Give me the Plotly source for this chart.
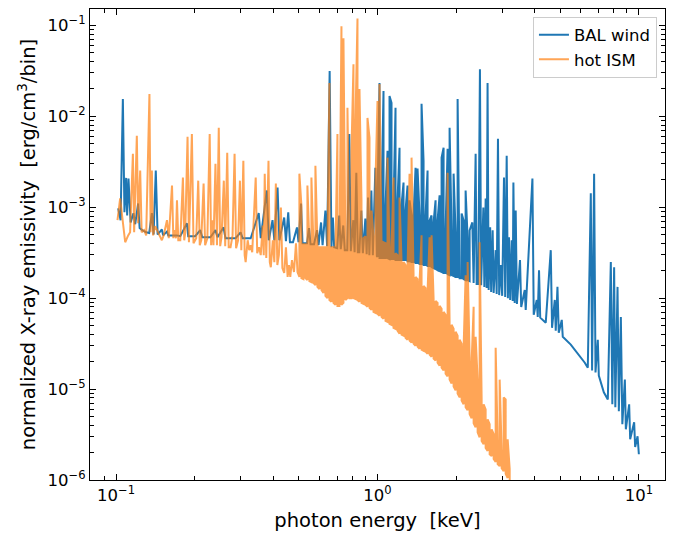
import plotly.graph_objects as go

# ---- data ----
# BAL wind, below 1 keV: (photon energy [keV], emissivity)
BAL_WIND_SOFT = [
    (0.1018, 9.7e-4), (0.1040, 7.2e-4), (0.1061, 1.55e-2), (0.1076, 8.8e-4), (0.1092, 2.1e-3),
    (0.1102, 8.1e-4), (0.1115, 2.07e-3), (0.1136, 6.8e-4), (0.1165, 8.6e-4), (0.1183, 6.5e-4),
    (0.1214, 1.1e-3), (0.1230, 5.9e-4), (0.1258, 5.6e-4), (0.1303, 5.3e-4), (0.1338, 5.2e-4),
    (0.1370, 8.6e-4), (0.1391, 5.0e-4), (0.1418, 2.53e-3), (0.1441, 5.0e-4), (0.1496, 5.7e-4),
    (0.1513, 4.9e-4), (0.1565, 5.4e-4), (0.1583, 4.9e-4), (0.1709, 4.9e-4), (0.1760, 4.8e-4),
    (0.1866, 6.65e-4), (0.1887, 4.8e-4), (0.2007, 4.8e-4), (0.2098, 5.6e-4), (0.2136, 4.67e-4),
    (0.2294, 4.67e-4), (0.2399, 5.6e-4), (0.2442, 4.67e-4), (0.2575, 6.0e-4), (0.2621, 4.56e-4),
    (0.2864, 4.56e-4), (0.2994, 5.3e-4), (0.3048, 4.56e-4), (0.3272, 4.56e-4), (0.3512, 8.6e-4),
    (0.3575, 4.56e-4), (0.3770, 1.53e-3), (0.3838, 4.33e-4), (0.3966, 7.2e-4), (0.4030, 4.33e-4),
    (0.4146, 1.65e-3), (0.4212, 4.33e-4), (0.4396, 7.7e-4), (0.4463, 4.23e-4), (0.4555, 8.8e-4),
    (0.4624, 4.12e-4), (0.4749, 4.12e-4), (0.4920, 6.0e-4), (0.4986, 4.12e-4), (0.5098, 1.1e-3),
    (0.5166, 4.02e-4), (0.5374, 4.02e-4), (0.5470, 5.9e-4), (0.5543, 3.92e-4), (0.5717, 3.92e-4),
    (0.5871, 5.6e-4), (0.5949, 3.82e-4), (0.6082, 6.8e-4), (0.6164, 3.82e-4), (0.6319, 9.2e-4),
    (0.6416, 3.73e-4), (0.6560, 3.14e-2), (0.6666, 3.63e-4), (0.6749, 7.7e-4), (0.6828, 3.63e-4),
    (0.7011, 3.54e-4), (0.7138, 8.1e-4), (0.7234, 3.45e-4), (0.7396, 6.3e-4), (0.7495, 3.37e-4),
    (0.7662, 3.37e-4), (0.7800, 6.4e-3), (0.7904, 3.28e-4), (0.8080, 7.2e-4), (0.8174, 3.2e-4),
    (0.8298, 2.4e-3), (0.8408, 3.2e-4), (0.8521, 3.2e-4), (0.8673, 9.2e-4), (0.8789, 3.12e-4),
    (0.8985, 7.5e-4), (0.9089, 3.05e-4), (0.9202, 1.28e-3), (0.9308, 2.97e-4), (0.9473, 1.53e-3),
    (0.9599, 2.97e-4), (0.9813, 2.72e-3), (0.9944, 2.9e-4),
]

# BAL wind, dense line forest 1-2.3 keV: energy, top of the forest, continuum below it
BAL_FOREST_E = [
    1.0000, 1.0178, 1.0359, 1.0544, 1.0731, 1.0922, 1.1117, 1.1315, 1.1516, 1.1721,
    1.1930, 1.2142, 1.2358, 1.2578, 1.2802, 1.3030, 1.3262, 1.3498, 1.3738, 1.3982,
    1.4231, 1.4485, 1.4742, 1.5005, 1.5272, 1.5544, 1.5821, 1.6102, 1.6389, 1.6680,
    1.6977, 1.7280, 1.7587, 1.7900, 1.8219, 1.8543, 1.8873, 1.9209, 1.9551, 1.9899,
    2.0253, 2.0614, 2.0981, 2.1354, 2.1734, 2.2121, 2.2515,
]
BAL_FOREST_TOP = [
    1.19e-3, 2.32e-2, 1.19e-3, 1.9e-2, 1.05e-3, 4.18e-3, 1.67e-2, 1.4e-2, 1.05e-3, 1.24e-2,
    1.19e-3, 4.51e-3, 1.05e-3, 1.87e-3, 9.23e-4, 1.73e-3, 1.19e-3, 8.13e-4, 8.13e-4, 2.72e-3,
    2.66e-3, 8.13e-4, 1.37e-2, 3.25e-3, 8.13e-4, 2.53e-3, 7.17e-4, 8.13e-4, 6.82e-4, 1.19e-3,
    7.17e-4, 1.35e-3, 3.51e-3, 4.51e-3, 5.86e-4, 4.4e-3, 7.46e-3, 5.57e-4, 2.34e-3, 5.3e-4,
    1.55e-2, 4.91e-4, 8.55e-4, 7.17e-4, 1.53e-3, 4.56e-4, 5.57e-4,
]
BAL_FOREST_BOTTOM = [
    2.83e-4, 2.76e-4, 2.76e-4, 2.76e-4, 2.76e-4, 2.76e-4, 2.69e-4, 2.69e-4, 2.69e-4, 2.62e-4,
    2.62e-4, 2.62e-4, 2.62e-4, 2.62e-4, 2.62e-4, 2.55e-4, 2.55e-4, 2.49e-4, 2.49e-4, 2.43e-4,
    2.43e-4, 2.37e-4, 2.37e-4, 2.31e-4, 2.31e-4, 2.25e-4, 2.25e-4, 2.19e-4, 2.14e-4, 2.09e-4,
    2.03e-4, 1.98e-4, 1.94e-4, 1.89e-4, 1.89e-4, 1.84e-4, 1.79e-4, 1.79e-4, 1.75e-4, 1.71e-4,
    1.71e-4, 1.66e-4, 1.66e-4, 1.62e-4, 1.58e-4, 1.58e-4, 1.54e-4,
]

# BAL wind, above 2.3 keV: (photon energy [keV], emissivity)
BAL_WIND_HARD = [
    (2.3058, 6.8e-4), (2.3324, 1.47e-4),
    (2.3739, 3.88e-3), (2.3949, 1.43e-4), (2.4291, 1.43e-4), (2.4485, 1.33e-2), (2.4658, 3.3e-2),
    (2.4921, 1.39e-4), (2.5410, 9.95e-4), (2.5635, 1.33e-4), (2.5931, 1.25e-3), (2.6160, 1.29e-4),
    (2.6369, 2.32e-2), (2.6626, 1.23e-4), (2.6980, 6.0e-4), (2.7220, 1.17e-4), (2.7582, 5.57e-4),
    (2.7826, 1.14e-4), (2.8322, 3.37e-4), (2.8573, 1.11e-4), (2.8903, 5.66e-3), (2.9211, 1.08e-4),
    (2.9600, 2.31e-4), (2.9994, 1.06e-4), (3.0475, 2.12e-3), (3.0799, 1.03e-4), (3.1209, 3.69e-3),
    (3.1541, 1.0e-4), (3.1849, 4.67e-4), (3.2188, 9.55e-5), (3.2617, 4.33e-4), (3.2906, 9.3e-5),
    (3.3110, 1.87e-3), (3.3492, 8.86e-5), (3.3789, 9.2e-4), (3.4148, 8.64e-5), (3.5095, 2.62e-4),
    (3.5468, 8.0e-5), (3.6582, 1.23e-4), (3.6906, 7.4e-5), (3.9150, 2.07e-3), (3.9602, 6.55e-5),
    (4.0664, 9.55e-5), (4.1025, 6.2e-5), (4.1498, 2.03e-4), (4.1940, 6.1e-5), (4.4026, 5.36e-5),
    (4.6011, 3.37e-4), (4.6542, 4.72e-5), (4.7663, 9.55e-5), (4.8085, 4.38e-5), (4.8812, 1.33e-4),
    (4.9376, 4.16e-5), (5.0700, 5.77e-5), (5.1150, 3.76e-5), (5.4892, 3.08e-5), (5.8906, 2.39e-5),
    (6.2106, 1.95e-5), (6.3771, 1.72e-5), (6.5480, 1.42e-3), (6.6235, 1.6e-5), (6.7414, 2.34e-3),
    (6.8251, 1.52e-5), (6.9650, 3.49e-5), (7.0268, 1.41e-5), (7.3436, 9.2e-6), (7.6072, 7.7e-6),
    (7.8112, 2.49e-4), (7.9153, 6.8e-6), (8.0420, 2.19e-4), (8.1276, 6.3e-6), (8.2869, 1.33e-4),
    (8.3825, 5.69e-6), (8.5318, 6.2e-5), (8.6455, 4.1e-6), (8.8384, 1.27e-5), (8.9168, 3.61e-6),
    (9.1804, 6.8e-6), (9.2618, 2.81e-6), (9.5936, 4.31e-6), (9.6787, 2.31e-6), (9.8860, 3.03e-6),
    (10.000, 1.92e-6),
]

# hot ISM, soft part: (photon energy [keV], emissivity)
HOT_ISM_SOFT = [
    (0.1012, 7.2e-4), (0.1036, 1.25e-3), (0.1054, 8.1e-4), (0.1083, 4.12e-4), (0.1112, 4.9e-4),
    (0.1131, 5.3e-4), (0.1159, 3.88e-3), (0.1172, 5.3e-4), (0.1200, 6.1e-3), (0.1214, 6.65e-4),
    (0.1236, 2.53e-3), (0.1252, 5.3e-4), (0.1280, 5.6e-4), (0.1303, 4.9e-4), (0.1341, 1.76e-2),
    (0.1355, 5.3e-4), (0.1370, 2.53e-3), (0.1385, 4.9e-4), (0.1410, 6.2e-4), (0.1435, 5.6e-4),
    (0.1460, 4.9e-4), (0.1496, 4.33e-4), (0.1520, 4.9e-4), (0.1565, 7.2e-4), (0.1590, 4.56e-4),
    (0.1636, 1.73e-3), (0.1655, 4.56e-4), (0.1669, 5.6e-4), (0.1693, 4.56e-4), (0.1709, 1.19e-3),
    (0.1729, 4.33e-4), (0.1760, 4.33e-4), (0.1801, 2.12e-3), (0.1822, 4.33e-4), (0.1838, 5.2e-4),
    (0.1876, 5.95e-3), (0.1899, 4.12e-4), (0.1949, 6.4e-3), (0.1977, 4.02e-4), (0.2025, 4.56e-4),
    (0.2061, 1.96e-3), (0.2089, 3.82e-4), (0.2117, 4.33e-4), (0.2161, 1.82e-3), (0.2190, 3.82e-4),
    (0.2234, 4.56e-4), (0.2280, 6.4e-3), (0.2309, 3.82e-4), (0.2329, 7.2e-4), (0.2357, 3.82e-4),
    (0.2399, 3.0e-3), (0.2431, 3.82e-4), (0.2470, 7.46e-3), (0.2501, 3.73e-4), (0.2530, 4.67e-4),
    (0.2582, 1.96e-3), (0.2614, 3.73e-4), (0.2661, 3.98e-3), (0.2696, 3.63e-4), (0.2740, 3.63e-4),
    (0.2789, 4.9e-4), (0.2839, 3.88e-3), (0.2877, 3.54e-4), (0.2928, 4.33e-4), (0.2976, 1.96e-3),
    (0.3013, 3.37e-4), (0.3067, 3.25e-3), (0.3103, 2.97e-4), (0.3130, 2.49e-4), (0.3186, 4.33e-4),
    (0.3229, 3.37e-4), (0.3272, 3.82e-4), (0.3316, 3.2e-4), (0.3420, 2.12e-3), (0.3465, 3.12e-4),
    (0.3521, 3.63e-4), (0.3575, 2.97e-4), (0.3638, 6.3e-4), (0.3671, 2.97e-4), (0.3703, 2.34e-3),
    (0.3753, 2.76e-4), (0.3828, 3.25e-3), (0.3872, 2.49e-4), (0.3907, 2.19e-4), (0.3976, 4.33e-4),
    (0.4030, 2.49e-4), (0.4084, 1.82e-3), (0.4138, 2.31e-4), (0.4194, 2.97e-4), (0.4269, 9.95e-4),
    (0.4326, 2.14e-4), (0.4396, 1.89e-4), (0.4463, 3.63e-4), (0.4531, 1.71e-4), (0.4584, 2.31e-4),
    (0.4637, 1.71e-4), (0.4707, 2.62e-4), (0.4791, 1.94e-4), (0.4877, 4.02e-4), (0.4942, 1.94e-4),
]

# hot ISM, dense line forest 0.5-3.2 keV: energy, top of the forest, bottom of the forest
ISM_FOREST_E = [
    0.5025, 0.5115, 0.5206, 0.5299, 0.5393, 0.5489, 0.5587, 0.5686, 0.5787, 0.5890,
    0.5995, 0.6102, 0.6211, 0.6321, 0.6434, 0.6548, 0.6665, 0.6783, 0.6904, 0.7027,
    0.7152, 0.7279, 0.7409, 0.7541, 0.7675, 0.7812, 0.7951, 0.8092, 0.8236, 0.8383,
    0.8532, 0.8684, 0.8838, 0.8996, 0.9156, 0.9319, 0.9485, 0.9653, 0.9825, 1.0000,
    1.0178, 1.0359, 1.0544, 1.0731, 1.0922, 1.1117, 1.1315, 1.1516, 1.1721, 1.1930,
    1.2142, 1.2358, 1.2578, 1.2802, 1.3030, 1.3262, 1.3498, 1.3738, 1.3982, 1.4231,
    1.4485, 1.4742, 1.5005, 1.5272, 1.5544, 1.5821, 1.6102, 1.6389, 1.6680, 1.6977,
    1.7280, 1.7587, 1.7900, 1.8219, 1.8543, 1.8873, 1.9209, 1.9551, 1.9899, 2.0253,
    2.0614, 2.0981, 2.1354, 2.1734, 2.2121, 2.2515, 2.2916, 2.3323, 2.3739, 2.4161,
    2.4591, 2.5029, 2.5475, 2.5928, 2.6389, 2.6859, 2.7337, 2.7824, 2.8319, 2.8823,
    2.9336, 2.9858, 3.0390, 3.0931, 3.1481, 3.2042,
]
ISM_FOREST_TOP = [
    2.34e-3, 1.05e-3, 3.92e-4, 3.92e-4, 1.73e-3, 3.92e-4, 2.12e-3, 3.92e-4, 2.86e-3, 3.92e-4,
    3.63e-4, 3.63e-4, 3.63e-4, 3.63e-4, 3.63e-4, 2.32e-2, 3.63e-4, 3.63e-4, 3.28e-4, 6.4e-3,
    3.28e-4, 9.75e-2, 7.2e-2, 3.28e-4, 1.24e-2, 3.28e-4, 4.18e-3, 3.74e-2, 8.9e-3, 1.19e-1,
    2.0e-2, 1.19e-3, 4.56e-4, 4.79e-4, 9.6e-3, 5.8e-3, 9.2e-4, 4.79e-4, 1.96e-3, 1.47e-2,
    2.26e-2, 4.33e-4, 4.12e-4, 4.02e-4, 3.51e-3, 3.73e-4, 3.54e-4, 2.12e-3, 3.12e-4, 2.97e-4,
    1.28e-3, 2.62e-4, 2.49e-4, 2.31e-4, 2.14e-4, 2.34e-3, 3.51e-3, 1.84e-4, 1.71e-4, 1.62e-4,
    1.5e-4, 4.91e-4, 1.36e-4, 1.29e-4, 1.2e-4, 4.67e-4, 4.91e-4, 1.0e-4, 9.3e-5, 8.86e-5,
    8.22e-5, 7.63e-5, 7.06e-5, 6.55e-5, 2.4e-3, 5.49e-5, 5.09e-5, 4.6e-5, 4.27e-5, 3.86e-5,
    3.49e-5, 3.16e-5, 2.85e-5, 1.79e-4, 2.49e-4, 2.22e-5, 2.0e-5, 8.02e-5, 3.76e-5, 1.27e-5,
    4.12e-4, 7.7e-6, 6.8e-6, 5.98e-6, 4.65e-6, 4.1e-6, 3.61e-6, 3.2e-6, 2.85e-5, 2.67e-6,
    1.27e-5, 2.08e-6, 8.1e-6, 7.7e-6, 2.81e-6, 1.32e-6,
]
ISM_FOREST_BOTTOM = [
    1.71e-4, 1.66e-4, 1.62e-4, 1.66e-4, 1.58e-4, 1.54e-4, 1.5e-4, 1.47e-4, 1.39e-4, 1.33e-4,
    1.26e-4, 1.23e-4, 1.14e-4, 1.06e-4, 1.0e-4, 9.55e-5, 9.1e-5, 8.86e-5, 8.43e-5, 8.22e-5,
    8.22e-5, 8.43e-5, 8.86e-5, 9.55e-5, 1.0e-4, 1.0e-4, 1.0e-4, 1.0e-4, 9.8e-5, 9.55e-5,
    9.1e-5, 8.86e-5, 8.64e-5, 8.43e-5, 8.02e-5, 7.82e-5, 7.43e-5, 7.07e-5, 6.89e-5, 6.72e-5,
    6.39e-5, 6.23e-5, 5.92e-5, 5.63e-5, 5.49e-5, 5.22e-5, 5.09e-5, 4.72e-5, 4.6e-5, 4.38e-5,
    4.06e-5, 3.96e-5, 3.86e-5, 3.67e-5, 3.49e-5, 3.41e-5, 3.24e-5, 3.16e-5, 3.0e-5, 2.93e-5,
    2.78e-5, 2.71e-5, 2.64e-5, 2.58e-5, 2.45e-5, 2.39e-5, 2.27e-5, 2.16e-5, 2.06e-5, 1.95e-5,
    1.81e-5, 1.72e-5, 1.6e-5, 1.48e-5, 1.38e-5, 1.27e-5, 1.15e-5, 1.07e-5, 9.67e-6, 8.93e-6,
    8.1e-6, 7.5e-6, 6.8e-6, 6.3e-6, 5.84e-6, 5.3e-6, 4.77e-6, 4.2e-6, 3.8e-6, 3.35e-6,
    2.95e-6, 2.68e-6, 2.48e-6, 2.25e-6, 2.08e-6, 1.92e-6, 1.83e-6, 1.7e-6, 1.58e-6, 1.5e-6,
    1.42e-6, 1.35e-6, 1.25e-6, 1.17e-6, 1.05e-6, 8.0e-7,
]
HOT_ISM_TAIL = [(3.29, 3.0e-7)]

X_TICK_VALUES = [0.1, 1, 10]
X_TICK_LABELS = ["10<sup>\u22121</sup>", "10<sup>0</sup>", "10<sup>1</sup>"]
Y_TICK_VALUES = [1e-6, 1e-5, 1e-4, 1e-3, 1e-2, 1e-1]
Y_TICK_LABELS = ["10<sup>\u22126</sup>", "10<sup>\u22125</sup>", "10<sup>\u22124</sup>",
                 "10<sup>\u22123</sup>", "10<sup>\u22122</sup>", "10<sup>\u22121</sup>"]


# ---- build the drawn series from the arrays above ----
def join_series(soft, forest_e, forest_top, forest_bottom, hard):
    xs = [e for e, _ in soft]
    ys = [v for _, v in soft]
    for i, (e, top, bot) in enumerate(zip(forest_e, forest_top, forest_bottom)):
        pair = [(e, bot), (e, top)] if i % 2 == 0 else [(e, top), (e, bot)]
        for pe, pv in pair:
            xs.append(pe)
            ys.append(pv)
    xs += [e for e, _ in hard]
    ys += [v for _, v in hard]
    return xs, ys


bal_e, bal_v = join_series(BAL_WIND_SOFT, BAL_FOREST_E, BAL_FOREST_TOP, BAL_FOREST_BOTTOM,
                           BAL_WIND_HARD)
ism_e, ism_v = join_series(HOT_ISM_SOFT, ISM_FOREST_E, ISM_FOREST_TOP, ISM_FOREST_BOTTOM,
                           HOT_ISM_TAIL)

x_minor = [m * 10.0 ** k for k in (-2, -1, 0, 1) for m in range(2, 10)]
y_minor = [m * 10.0 ** k for k in (-7, -6, -5, -4, -3, -2, -1) for m in range(2, 10)]

FONT = "DejaVu Sans"

fig = go.Figure()
fig.add_trace(go.Scatter(x=bal_e, y=bal_v, mode="lines", name="BAL wind",
                         line=dict(color="#1f77b4", width=2)))
fig.add_trace(go.Scatter(x=ism_e, y=ism_v, mode="lines", name="hot ISM",
                         line=dict(color="rgba(255,127,14,0.7)", width=2)))

axis_common = dict(
    showgrid=False, zeroline=False, showline=True, linecolor="black", linewidth=1.1,
    mirror="ticks", ticks="inside", ticklen=6, tickwidth=1.1, tickcolor="black",
    tickfont=dict(family=FONT, size=16.5, color="black"),
)

fig.update_layout(
    width=685, height=535, autosize=False,
    margin=dict(l=90, r=20, t=8, b=54),
    paper_bgcolor="white", plot_bgcolor="white",
    font=dict(family=FONT, size=16.5, color="black"),
    xaxis=dict(
        type="log", range=[-1.1, 1.1],
        tickvals=X_TICK_VALUES, ticktext=X_TICK_LABELS,
        minor=dict(tickvals=x_minor, ticks="inside", ticklen=3.5, tickwidth=0.9, tickcolor="black"),
        title=dict(text="photon energy\u00a0 [keV]", font=dict(family=FONT, size=19.5), standoff=9),
        **axis_common,
    ),
    yaxis=dict(
        type="log", range=[-6, -0.82],
        tickvals=Y_TICK_VALUES, ticktext=Y_TICK_LABELS,
        minor=dict(tickvals=y_minor, ticks="inside", ticklen=3.5, tickwidth=0.9, tickcolor="black"),
        title=dict(text="normalized X-ray emissivity\u00a0 [erg/cm<sup>3</sup>/bin]",
                   font=dict(family=FONT, size=19.5), standoff=6),
        **axis_common,
    ),
    legend=dict(
        x=0.986, y=0.984, xanchor="right", yanchor="top",
        bgcolor="rgba(255,255,255,0.8)", bordercolor="#cccccc", borderwidth=1,
        font=dict(family=FONT, size=16.5, color="black"),
    ),
    showlegend=True,
)

fig.write_html("out.html")
